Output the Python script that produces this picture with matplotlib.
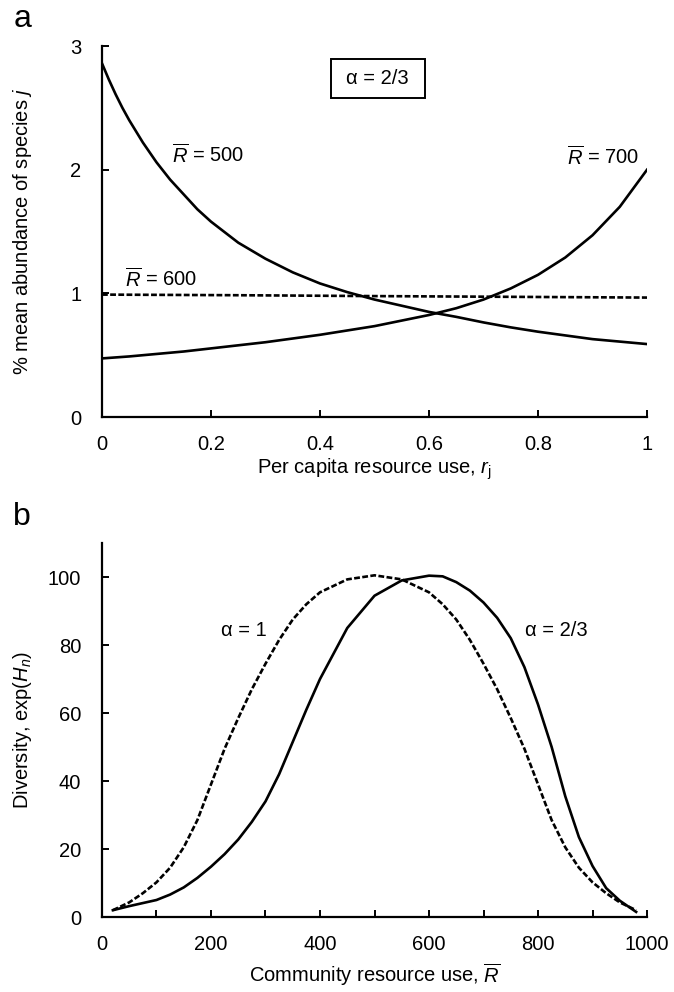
import matplotlib
matplotlib.use("Agg")
import matplotlib.pyplot as plt
from matplotlib.patches import Rectangle

plt.rcParams['font.family'] = ['Liberation Sans', 'DejaVu Sans']
plt.rcParams['mathtext.fontset'] = 'custom'
plt.rcParams['mathtext.rm'] = 'Liberation Sans'
plt.rcParams['mathtext.it'] = 'Liberation Sans:italic'
plt.rcParams['mathtext.bf'] = 'Liberation Sans:bold'

# ---------------- Panel a data ----------------
r_500 = [0, 0.0125, 0.025, 0.0375, 0.05, 0.075, 0.1, 0.125, 0.15, 0.175, 0.2, 0.25, 0.3, 0.35,
         0.4, 0.45, 0.5, 0.55, 0.6, 0.65, 0.7, 0.75, 0.8, 0.85, 0.9, 0.95, 1.0]
ab_500 = [2.86, 2.73, 2.61, 2.50, 2.40, 2.22, 2.06, 1.92, 1.80, 1.68, 1.58, 1.41, 1.28, 1.17,
          1.08, 1.01, 0.95, 0.90, 0.85, 0.81, 0.765, 0.725, 0.69, 0.66, 0.63, 0.61, 0.59]

r_700 = [0, 0.05, 0.1, 0.15, 0.2, 0.25, 0.3, 0.35, 0.4, 0.45, 0.5, 0.55, 0.6,
         0.65, 0.7, 0.75, 0.8, 0.85, 0.9, 0.95, 1.0]
ab_700 = [0.474, 0.49, 0.51, 0.53, 0.555, 0.58, 0.605, 0.635, 0.665, 0.70, 0.735, 0.78, 0.825,
          0.88, 0.95, 1.04, 1.15, 1.29, 1.47, 1.70, 2.0]

r_600 = [0, 0.25, 0.5, 0.75, 1.0]
ab_600 = [0.99, 0.985, 0.978, 0.972, 0.966]

# ---------------- Panel b data ----------------
R_bar = [20, 50, 75, 100, 125, 150, 175, 200, 225, 250, 275, 300, 325, 350, 375, 400, 450,
         500, 550, 600, 625, 650, 675, 700, 725, 750, 775, 800, 825, 850, 875, 900, 925,
         950, 980]
div_a1 = [2.0, 4.3, 7.0, 10.2, 14.5, 20.5, 28.5, 39.0, 49.5, 58.5, 67.0, 74.5, 81.5, 87.5,
          92.0, 95.5, 99.3, 100.5, 99.3, 95.5, 92.0, 87.5, 81.5, 74.5, 67.0, 58.5, 49.5,
          39.0, 28.5, 20.5, 14.5, 10.2, 7.0, 4.3, 2.0]
div_a23 = [2.0, 3.2, 4.1, 5.0, 6.6, 8.7, 11.5, 14.8, 18.5, 22.8, 28.0, 34.0, 42.0, 51.5,
           61.0, 70.0, 85.0, 94.5, 99.0, 100.4, 100.2, 98.5, 96.0, 92.5, 88.0, 82.0, 73.5,
           62.5, 50.0, 35.5, 23.5, 15.0, 8.5, 4.8, 1.5]

LW = 1.9
DASH = (0, (2.2, 0.9))
FS = 14.5

fig = plt.figure(figsize=(6.74, 9.92), dpi=100)

def style(ax):
    for s in ['top', 'right']:
        ax.spines[s].set_visible(False)
    for s in ['left', 'bottom']:
        ax.spines[s].set_linewidth(1.6)
    ax.tick_params(direction='in', length=5, width=1.4, labelsize=FS)
    ax.tick_params(axis='x', pad=13)
    ax.tick_params(axis='y', pad=15)

# ---- Panel a ----
ax1 = fig.add_axes([0.1513, 0.5796, 0.8087, 0.3740])
style(ax1)
ax1.plot(r_500, ab_500, color='black', lw=LW)
ax1.plot(r_700, ab_700, color='black', lw=LW)
ax1.plot(r_600, ab_600, color='black', lw=LW, linestyle=DASH)
ax1.set_xlim(0, 1)
ax1.set_ylim(0, 3)
ax1.set_xticks([0, 0.2, 0.4, 0.6, 0.8, 1.0])
ax1.set_xticklabels(['0', '0.2', '0.4', '0.6', '0.8', '1'])
ax1.set_yticks([0, 1, 2, 3])
ax1.set_xlabel(r'Per capita resource use, $r_{\mathrm{j}}$', fontsize=FS)
ax1.set_ylabel(r'% mean abundance of species $j$', fontsize=FS)
ax1.xaxis.set_label_coords(0.5, -0.106)
ax1.yaxis.set_label_coords(-0.125, 0.5)
ax1.text(0.128, 2.12, r'$\overline{R}$ = 500', fontsize=FS, va='center', ha='left')
ax1.text(0.042, 1.12, r'$\overline{R}$ = 600', fontsize=FS, va='center', ha='left')
ax1.text(0.985, 2.10, r'$\overline{R}$ = 700', fontsize=FS, va='center', ha='right')
ax1.add_patch(Rectangle((0.506 - 0.086, 0.912 - 0.0525), 0.172, 0.105,
                        transform=ax1.transAxes, fill=False, ec='black', lw=1.4))
ax1.text(0.506, 0.912, 'α = 2/3', fontsize=FS, va='center', ha='center',
         transform=ax1.transAxes)

# ---- Panel b ----
ax2 = fig.add_axes([0.1513, 0.0756, 0.8087, 0.3770])
style(ax2)
ax2.plot(R_bar, div_a1, color='black', lw=LW, linestyle=DASH)
ax2.plot(R_bar, div_a23, color='black', lw=LW)
ax2.set_xlim(0, 1000)
ax2.set_ylim(0, 110)
ax2.set_xticks(range(0, 1001, 100))
ax2.set_xticklabels([str(v) if v % 200 == 0 else '' for v in range(0, 1001, 100)])
ax2.set_yticks([0, 20, 40, 60, 80, 100])
ax2.set_xlabel(r'Community resource use, $\overline{R}$', fontsize=FS)
ax2.set_ylabel(r'Diversity, exp($H_n$)', fontsize=FS)
ax2.xaxis.set_label_coords(0.5, -0.117)
ax2.yaxis.set_label_coords(-0.125, 0.5)
ax2.text(261, 84.2, 'α = 1', fontsize=FS, va='center', ha='center')
ax2.text(834, 84.2, 'α = 2/3', fontsize=FS, va='center', ha='center')

fig.text(0.033, 0.9728, 'a', fontsize=23, va='baseline', ha='center')
fig.text(0.033, 0.4708, 'b', fontsize=23, va='baseline', ha='center')

fig.savefig('out.png', dpi=100)
